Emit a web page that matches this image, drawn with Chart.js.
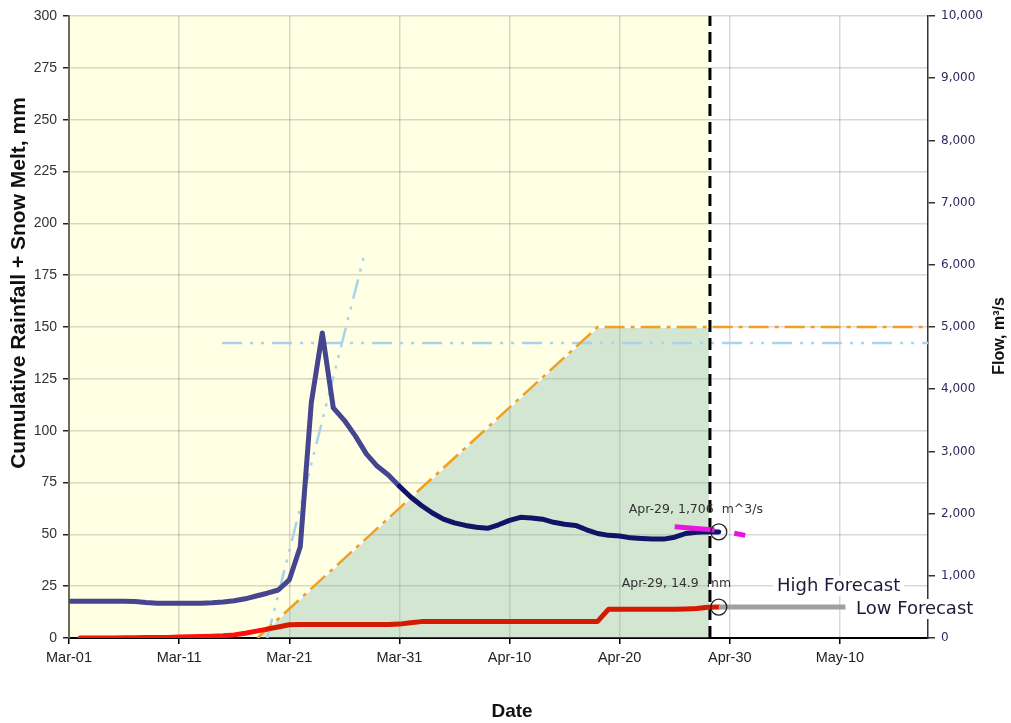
<!DOCTYPE html>
<html>
<head>
<meta charset="utf-8">
<script src="https://cdn.jsdelivr.net/npm/chart.js@4/dist/chart.umd.min.js"></script>
<style>
  html, body { margin: 0; padding: 0; background: #fff; }
  canvas { display: block; }
</style>
</head>
<body>
<canvas id="c" width="1011" height="723"></canvas>
<script>
// x tick labels, one every 10 days starting Mar-01 (day 0)
const xTickLabels = ['Mar-01','Mar-11','Mar-21','Mar-31','Apr-10','Apr-20','Apr-30','May-10'];

// daily observed flow, m3/s, Mar-01 .. Apr-29 (day 0..59)
const flow = [590,590,590,590,590,590,585,570,560,560,
              560,560,560,565,580,600,630,675,720,772,
              933,1468,3780,4904,3700,3500,3250,2960,2760,2620,
              2440,2270,2130,2010,1910,1850,1810,1780,1764,1820,
              1890,1940,1930,1910,1860,1830,1810,1740,1680,1650,
              1640,1610,1600,1590,1590,1620,1680,1700,1710,1706];

// daily cumulative rainfall + snow melt, mm (day 0 has no value)
const rain = [null,0,0,0,0,0.1,0.1,0.2,0.2,0.3,
              0.5,0.6,0.7,0.9,1.1,1.5,2.3,3.3,4.3,5.3,
              6.4,6.5,6.5,6.5,6.5,6.5,6.5,6.5,6.5,6.5,
              6.7,7.4,7.9,7.9,7.9,7.9,7.9,7.9,7.9,7.9,
              7.9,7.9,7.9,7.9,7.9,7.9,7.9,7.9,8,13.9,
              13.9,13.9,13.9,13.9,13.9,13.9,14,14.2,14.8,14.9];

// guide lines (day, mm)
const orangeX = [17.1, 48, 78];
const orangeY = [0, 150, 150];
const greenX = [17.1, 48, 58.2, 58.2];
const greenY = [0, 150, 150, 0];
const blueSteepX = [18, 26.8];
const blueSteepY = [0, 184.5];
const blueFlatX = [13.9, 78];
const blueFlatY = [142.3, 142.3];
const forecastDay = 58.2;

// flow forecast (day, m3/s)
const magentaX = [55, 59, 61.4];
const magentaY = [1790, 1730, 1650];
// low forecast of rainfall (day, mm)
const lowX = [59, 70.5];
const lowY = [14.9, 14.9];

const lastDay = 59;
const lastDate = 'Apr-29';

function pts(xs, ys){ return xs.map((x,i)=>({x:x, y:ys[i]})); }

const SANS = '"Liberation Sans", Arial, sans-serif';
const DEJA = '"DejaVu Sans", Verdana, sans-serif';

const bgPlugin = {
  id: 'bg',
  beforeDraw(chart){
    const {ctx, chartArea:a, scales} = chart;
    const xf = scales.x.getPixelForValue(forecastDay);
    ctx.save();
    ctx.fillStyle = '#ffffe3';
    ctx.fillRect(a.left, a.top, xf - a.left, a.bottom - a.top);
    ctx.restore();
  },
  afterDraw(chart){
    const {ctx, scales} = chart;
    ctx.save();
    ctx.fillStyle = '#111';
    // axis titles
    ctx.textAlign = 'center';
    ctx.textBaseline = 'middle';
    ctx.save();
    ctx.translate(19, 283);
    ctx.rotate(-Math.PI/2);
    ctx.font = 'bold 21px ' + SANS;
    ctx.fillText('Cumulative Rainfall + Snow Melt, mm', 0, 0);
    ctx.restore();
    ctx.save();
    ctx.translate(1000, 336);
    ctx.rotate(-Math.PI/2);
    ctx.font = 'bold 16px ' + SANS;
    ctx.fillText('Flow, m\u00b3/s', 0, 0);
    ctx.restore();
    ctx.font = 'bold 19px ' + SANS;
    ctx.fillText('Date', 512, 712);

    // point labels
    const px = scales.x.getPixelForValue(lastDay);
    const pyF = scales.y2.getPixelForValue(flow[lastDay]);
    const pyR = scales.y.getPixelForValue(rain[lastDay]);
    ctx.font = '12.5px ' + DEJA;
    ctx.fillStyle = '#333';
    ctx.textAlign = 'left';
    ctx.fillText(lastDate + ', ' + flow[lastDay].toLocaleString('en-US') + '  m^3/s', px - 90, pyF - 22);
    ctx.fillText(lastDate + ', ' + rain[lastDay] + '  mm', px - 97, pyR - 23);

    // forecast labels with white boxes
    ctx.font = '18px ' + DEJA;
    const labels = [['High Forecast', 777, 586], ['Low Forecast', 856, 609]];
    labels.forEach(([t, x, y]) => {
      const w = ctx.measureText(t).width;
      ctx.fillStyle = '#fff';
      ctx.fillRect(x - 4, y - 10, w + 8, 20);
      ctx.fillStyle = '#1c1c3a';
      ctx.fillText(t, x, y);
    });
    ctx.restore();
  }
};

const lineBase = {type:'line', pointRadius:0, tension:0, fill:false};

new Chart(document.getElementById('c'), {
  type: 'line',
  data: {
    datasets: [
      {...lineBase, label:'circleF', type:'scatter', yAxisID:'y2', data:[{x:lastDay, y:flow[lastDay]}],
        pointRadius:8, pointBorderColor:'#222', pointBorderWidth:1.3, pointBackgroundColor:'rgba(0,0,0,0)'},
      {...lineBase, label:'circleR', type:'scatter', yAxisID:'y', data:[{x:lastDay, y:rain[lastDay]}],
        pointRadius:8, pointBorderColor:'#222', pointBorderWidth:1.3, pointBackgroundColor:'rgba(0,0,0,0)'},
      {...lineBase, label:'Low', yAxisID:'y', data:pts(lowX, lowY), borderColor:'#a0a0a0', borderWidth:5},
      {...lineBase, label:'Flow forecast', yAxisID:'y2', data:pts(magentaX, magentaY), borderColor:'#e815e0', borderWidth:5, borderDash:[40,20]},
      {...lineBase, label:'Flow', yAxisID:'y2', data:flow.map((v,i)=>({x:i, y:v})), borderWidth:5,
        borderCapStyle:'round', borderJoinStyle:'round',
        segment:{borderColor: c => c.p0.parsed.x >= 30 ? '#111466' : '#46458f'}},
      {...lineBase, label:'Rain', yAxisID:'y', data:rain.map((v,i)=>({x:i, y:v})), borderWidth:5,
        borderCapStyle:'round', borderJoinStyle:'round',
        segment:{borderColor: c => c.p0.parsed.x >= 18 ? '#d41a00' : '#ff1010'}},
      {...lineBase, label:'Forecast date', yAxisID:'y', data:[{x:forecastDay, y:0},{x:forecastDay, y:300}],
        borderColor:'#000', borderWidth:3, borderDash:[12,6]},
      {...lineBase, label:'Orange', yAxisID:'y', data:pts(orangeX, orangeY), borderColor:'#f0a020', borderWidth:2.5, borderDash:[20,6,4,6]},
      {...lineBase, label:'BlueSteep', yAxisID:'y', data:pts(blueSteepX, blueSteepY), borderColor:'#a9d2ee', borderWidth:2.5, borderDash:[20,8,3,8,3,8]},
      {...lineBase, label:'BlueFlat', yAxisID:'y', data:pts(blueFlatX, blueFlatY), borderColor:'#a9d2ee', borderWidth:2.5, borderDash:[20,8,3,8,3,8]},
      {...lineBase, label:'Green', yAxisID:'y', data:pts(greenX, greenY), borderColor:'#ffffff', borderWidth:2,
        fill:'origin', backgroundColor:'rgba(126,184,175,0.35)'}
    ]
  },
  options: {
    responsive: false,
    animation: false,
    devicePixelRatio: 1,
    layout: {padding: {top: 16, left: 0, right: 0, bottom: 0}},
    plugins: {legend: {display: false}, tooltip: {enabled: false}},
    scales: {
      x: {
        type: 'linear', position: 'bottom', min: 0, max: 78,
        ticks: {stepSize: 10, includeBounds: false, autoSkip: false, maxRotation: 0,
          callback: v => xTickLabels[Math.round(v/10)], color: '#222', padding: 5,
          font: {family: SANS, size: 14.5}},
        grid: {color: 'rgba(0,0,0,0.15)', lineWidth: 1.5, tickLength: 6, tickColor: '#000'},
        border: {color: '#000', width: 2},
        afterFit: s => { s.height = 85; }
      },
      y: {
        position: 'left', min: 0, max: 300,
        ticks: {stepSize: 25, color: '#333', padding: 6, font: {family: SANS, size: 14}},
        grid: {color: 'rgba(0,0,0,0.15)', lineWidth: 1.5, tickLength: 6, tickColor: '#222'},
        border: {color: '#6d6d52', width: 2},
        afterFit: s => { s.width = 69; }
      },
      y2: {
        position: 'right', min: 0, max: 10000,
        ticks: {stepSize: 1000, color: '#33285e', padding: 6,
          callback: v => v.toLocaleString('en-US'),
          font: {family: DEJA, size: 12}},
        grid: {drawOnChartArea: false, tickLength: 7, tickColor: '#333', lineWidth: 1.5},
        border: {color: '#333', width: 1.5},
        afterFit: s => { s.width = 83; }
      }
    }
  },
  plugins: [bgPlugin]
});
</script>
</body>
</html>
